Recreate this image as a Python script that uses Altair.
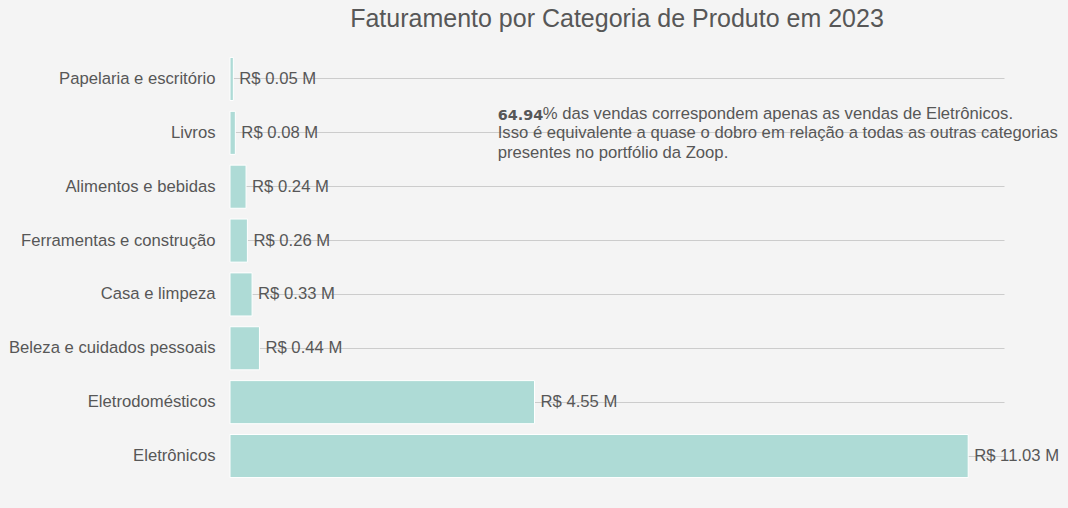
import altair as alt
import pandas as pd

categorias = [
    "Papelaria e escritório",
    "Livros",
    "Alimentos e bebidas",
    "Ferramentas e construção",
    "Casa e limpeza",
    "Beleza e cuidados pessoais",
    "Eletrodomésticos",
    "Eletrônicos",
]
faturamento = [0.05, 0.08, 0.24, 0.26, 0.33, 0.44, 4.55, 11.03]
x_max = 11.565

annot_categoria = "Livros"
annot_x = 4.0
annot_bold = "64.94"
annot_linhas = [
    "% das vendas correspondem apenas as vendas de Eletrônicos.",
    "Isso é equivalente a quase o dobro em relação a todas as outras categorias",
    "presentes no portfólio da Zoop.",
]

TXT = "#575757"
FONT = "Liberation Sans"
FS = 16.67

df = pd.DataFrame({"categoria": categorias, "valor": faturamento})
df["rotulo"] = ["R$ %.2f M" % v for v in faturamento]

x_scale = alt.Scale(domain=[0, x_max], nice=False, zero=True)
y_scale = alt.Scale(domain=categorias, paddingInner=0.2, paddingOuter=0.398)

y_enc = alt.Y(
    "categoria:N",
    scale=y_scale,
    sort=categorias,
    axis=alt.Axis(
        title=None,
        labelFontSize=FS,
        labelColor=TXT,
        labelFont=FONT,
        labelPadding=15,
        ticks=False,
        domain=False,
        grid=True,
        gridColor="#cccccc",
        gridWidth=1,
        bandPosition=0.5,
        labelLimit=400,
    ),
)
x_enc = alt.X("valor:Q", scale=x_scale, axis=None)

base = alt.Chart(df)
bars = base.mark_bar(color="#aedbd6", stroke="white", strokeWidth=1).encode(x=x_enc, y=y_enc)
labels = base.mark_text(
    align="left", baseline="middle", dx=6, fontSize=FS, font=FONT, color=TXT
).encode(x=x_enc, y=y_enc, text="rotulo:N")

ann_bold_df = pd.DataFrame({"categoria": [annot_categoria], "valor": [annot_x], "t": [annot_bold]})
ann_bold = alt.Chart(ann_bold_df).mark_text(
    align="left", baseline="alphabetic", dy=-12.8, fontSize=14.4, font="DejaVu Sans",
    fontWeight="bold", color=TXT
).encode(x=x_enc, y=y_enc, text="t:N")

ann_layers = []
offsets = [(45, -13.5), (0, 5.5), (0, 24.8)]
for linha, (dx, dy) in zip(annot_linhas, offsets):
    d = pd.DataFrame({"categoria": [annot_categoria], "valor": [annot_x], "t": [linha]})
    ann_layers.append(
        alt.Chart(d).mark_text(
            align="left", baseline="alphabetic", dx=dx, dy=dy, fontSize=FS, font=FONT, color=TXT
        ).encode(x=x_enc, y=y_enc, text="t:N")
    )

chart = alt.layer(bars, labels, ann_bold, *ann_layers).properties(
    width=774,
    height=463,
    title=alt.TitleParams(
        "Faturamento por Categoria de Produto em 2023",
        fontSize=25, font=FONT, fontWeight="normal", color=TXT, anchor="middle", offset=4,
    ),
    autosize=alt.AutoSizeParams(type="none"),
    padding={"left": 230, "top": 36, "right": 64, "bottom": 9},
    background="#f4f4f4",
).configure_view(stroke=None)

chart.save("out.html", embed_options={"renderer": "svg", "actions": False})
